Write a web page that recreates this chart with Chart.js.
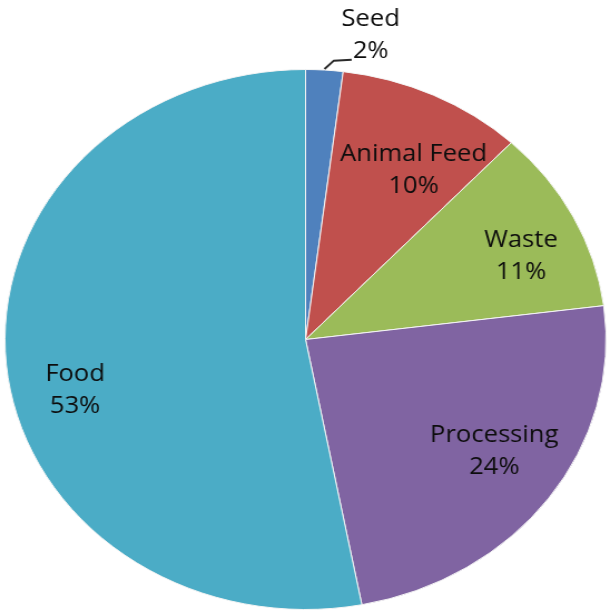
<!DOCTYPE html>
<html>
<head>
<meta charset="utf-8">
<script src="https://cdn.jsdelivr.net/npm/chart.js@4.4.1/dist/chart.umd.min.js"></script>
<style>
  html, body { margin: 0; padding: 0; background: #fff; }
  body { width: 610px; height: 612px; overflow: hidden; }
  /* the pie is drawn round and then stretched sideways into an oval */
  #wrap {
    position: absolute; left: 0; top: 0;
    width: 548px; height: 612px;
    transform: scaleX(1.1131);
    transform-origin: 0 0;
  }
</style>
</head>
<body>
<div id="wrap"><canvas id="pie"></canvas></div>
<script>
const categories = ['Seed', 'Animal Feed', 'Waste', 'Processing', 'Food'];
const shares = [2, 10, 11, 24, 53];
const sliceColors = ['#4F81BD', '#C0504D', '#9BBB59', '#8064A2', '#4BACC6'];

// where each label sits: turn (deg) away from the slice middle, dist as share of radius
const labelSpots = [
    { turn: 7.3, dist: 1.146, leader: true },
    { turn: 4.7, dist: 0.721 },
    { turn: 3.8, dist: 0.78 },
    { turn: -2.5, dist: 0.753 },
    { turn: -8.5, dist: 0.79 }
];

const sliceLabels = {
    id: 'sliceLabels',
    afterDatasetsDraw(chart) {
        const ctx = chart.ctx;
        const meta = chart.getDatasetMeta(0);
        ctx.save();
        ctx.font = '23px "Open Sans", "Liberation Sans", sans-serif';
        ctx.fillStyle = '#0d0d0d';
        ctx.textAlign = 'center';
        ctx.textBaseline = 'middle';
        meta.data.forEach((arc, i) => {
            const p = arc.getProps(['x', 'y', 'startAngle', 'endAngle', 'outerRadius'], true);
            const spot = labelSpots[i];
            const a = (p.startAngle + p.endAngle) / 2 + spot.turn * Math.PI / 180;
            const lx = p.x + Math.cos(a) * p.outerRadius * spot.dist;
            const ly = p.y + Math.sin(a) * p.outerRadius * spot.dist;
            const pct = shares[i] + '%';
            ctx.fillText(categories[i], lx, ly - 16);
            ctx.fillText(pct, lx, ly + 16);

            if (spot.leader) {
                const mid = (p.startAngle + p.endAngle) / 2;
                const sx = p.x + Math.cos(mid) * (p.outerRadius + 1);
                const sy = p.y + Math.sin(mid) * (p.outerRadius + 1);
                const ex = lx - ctx.measureText(pct).width / 2 - 1;
                const ey = ly + 24;
                ctx.beginPath();
                ctx.moveTo(sx, sy);
                ctx.lineTo(ex - 16, ey + 1);
                ctx.lineTo(ex, ey);
                ctx.strokeStyle = '#2a2a2a';
                ctx.lineWidth = 2;
                ctx.stroke();
            }
        });
        ctx.restore();
    }
};

new Chart(document.getElementById('pie'), {
    type: 'pie',
    data: {
        labels: categories,
        datasets: [{
            data: shares,
            backgroundColor: sliceColors,
            borderColor: '#f4f4f4',
            borderWidth: 1
        }]
    },
    options: {
        responsive: true,
        maintainAspectRatio: false,
        animation: false,
        layout: { padding: { left: 4, right: 3, top: 69, bottom: 2 } },
        plugins: {
            legend: { display: false },
            tooltip: { enabled: false }
        }
    },
    plugins: [sliceLabels]
});
</script>
</body>
</html>
